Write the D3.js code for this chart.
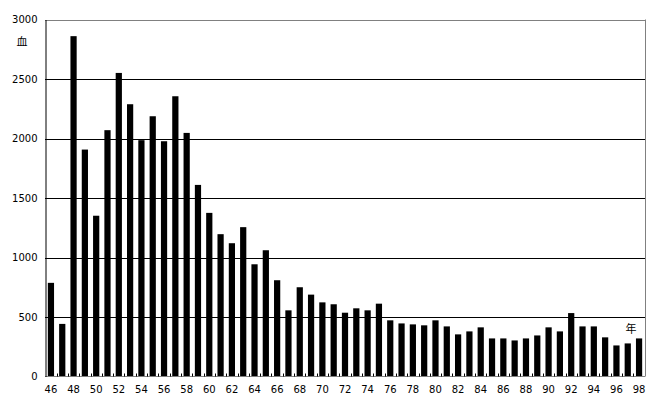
<!DOCTYPE html>
<html><head><meta charset="utf-8">
<script src="https://cdn.jsdelivr.net/npm/d3@7"></script>
<style>body{margin:0;background:#fff}svg{display:block}</style>
</head><body><svg id="c" width="654" height="408"></svg>
<script>
const years = d3.range(46, 99).map(String);
const values = [787,442,2860,1907,1351,2070,2551,2288,1986,2187,1977,2355,2047,1610,1375,1196,1120,1255,943,1061,809,556,750,688,623,607,536,573,556,612,472,446,438,430,472,421,354,379,413,320,320,303,320,345,413,379,533,421,421,329,261,278,320];
const yTicks = [0,500,1000,1500,2000,2500,3000];
const xTickLabels = years.filter((d,i)=>i%2===0);
const unitY = "血";
const unitX = "年";

const svg = d3.select("#c");
const m = {left:45, right:645, top:19.5, bottom:376.5};
const x = d3.scaleBand().domain(years).range([m.left, m.right]).paddingInner(0.45).paddingOuter(0.25);
const y = d3.scaleLinear().domain([0,3000]).range([m.bottom, m.top]);
const font = "'DejaVu Sans', sans-serif";

// gridlines
svg.append("g").selectAll("line").data(yTicks.filter(d=>d>0)).join("line")
  .attr("x1", m.left).attr("x2", m.right)
  .attr("y1", d=>Math.round(y(d))+0.5).attr("y2", d=>Math.round(y(d))+0.5)
  .attr("stroke", d=>d===3000?"#808080":"#000").attr("stroke-width",1);

// bars
svg.append("g").selectAll("rect").data(values).join("rect")
  .attr("x", (d,i)=>x(years[i])).attr("width", x.bandwidth())
  .attr("y", d=>y(d)).attr("height", d=>y(0)-y(d))
  .attr("fill","#000");

// frame
svg.append("line").attr("x1",m.right+0.5).attr("x2",m.right+0.5).attr("y1",y(3000)).attr("y2",y(0)).attr("stroke","#808080");
svg.append("line").attr("x1",m.left).attr("x2",m.right).attr("y1",y(0)).attr("y2",y(0)).attr("stroke","#808080");

// y axis
const ya = d3.axisLeft(y).tickValues(yTicks).tickSize(0).tickPadding(8).tickFormat(d3.format("d"));
const gy = svg.append("g").attr("transform",`translate(${m.left+0.5},0)`).call(ya);
gy.select(".domain").attr("stroke","#000");
gy.selectAll("text").attr("font-family",font).attr("font-size",10).attr("fill","#000");

// x axis with ticks at band boundaries
const step = x.step();
const bounds = years.slice(1).map((d,i)=>x(d) - (step - x.bandwidth())/2);
svg.append("g").selectAll("line").data(bounds).join("line")
  .attr("x1",d=>Math.round(d)+0.5).attr("x2",d=>Math.round(d)+0.5)
  .attr("y1",y(0)).attr("y2",y(0)-3).attr("stroke","#000");
const xa = d3.axisBottom(x).tickValues(xTickLabels).tickSize(0).tickPadding(9);
const gx = svg.append("g").attr("transform",`translate(0,${m.bottom})`).call(xa);
gx.select(".domain").remove();
gx.selectAll("text").attr("font-family",font).attr("font-size",10).attr("fill","#000");

svg.append("text").attr("x",22).attr("y",46).attr("text-anchor","middle")
  .attr("font-family","'Noto Sans CJK JP', sans-serif").attr("font-size",11).text(unitY);
svg.append("text").attr("x",631).attr("y",333).attr("text-anchor","middle")
  .attr("font-family","'Noto Sans CJK JP', sans-serif").attr("font-size",11).text(unitX);
</script></body></html>
